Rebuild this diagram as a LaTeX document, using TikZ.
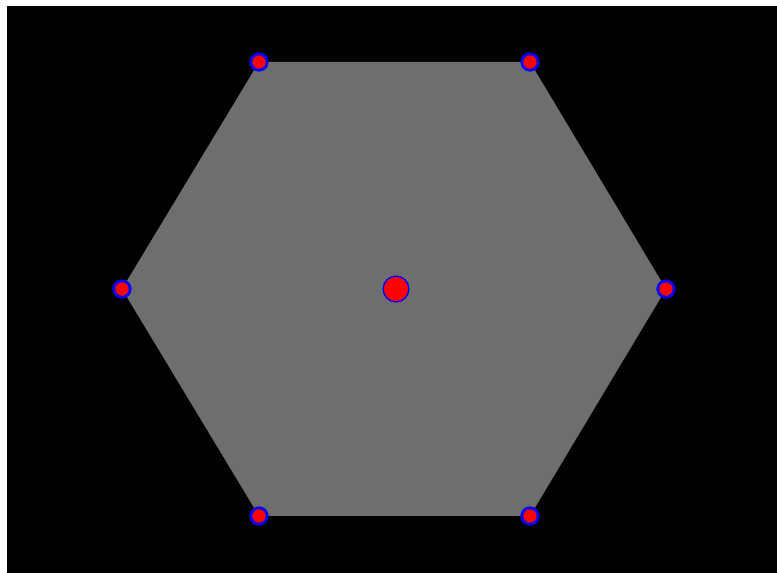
\documentclass[tikz,border=0pt]{standalone}
\begin{document}
\begin{tikzpicture}[x=0.03cm,y=-0.03cm]
    \tikzset{
      corner/.style={circle,fill=red,draw=blue,line width=2.4pt,minimum size=14,inner sep=0pt},
      centre/.style={circle,fill=red,draw=blue,line width=1.2pt,minimum size=22,inner sep=0pt}
    }
    \definecolor{hexgray}{RGB}{110,110,110}
    \fill[white] (0,0) rectangle (777,573);
    \fill[black] (7,6) rectangle (777,573);
    \useasboundingbox (0,0) rectangle (777,573);
    \coordinate (v1) at (259,62);
    \coordinate (v2) at (530,62);
    \coordinate (v3) at (666,289);
    \coordinate (v4) at (530,516);
    \coordinate (v5) at (259,516);
    \coordinate (v6) at (122,289);
    \fill[hexgray] (v1) -- (v2) -- (v3) -- (v4) -- (v5) -- (v6) -- cycle;
    \node[corner] (d1) at (v1) {};
    \node[corner] (d2) at (v2) {};
    \node[corner] (d3) at (v3) {};
    \node[corner] (d4) at (v4) {};
    \node[corner] (d5) at (v5) {};
    \node[corner] (d6) at (v6) {};
    \node[centre] (mid) at (396,289) {};
  \end{tikzpicture}
\end{document}
